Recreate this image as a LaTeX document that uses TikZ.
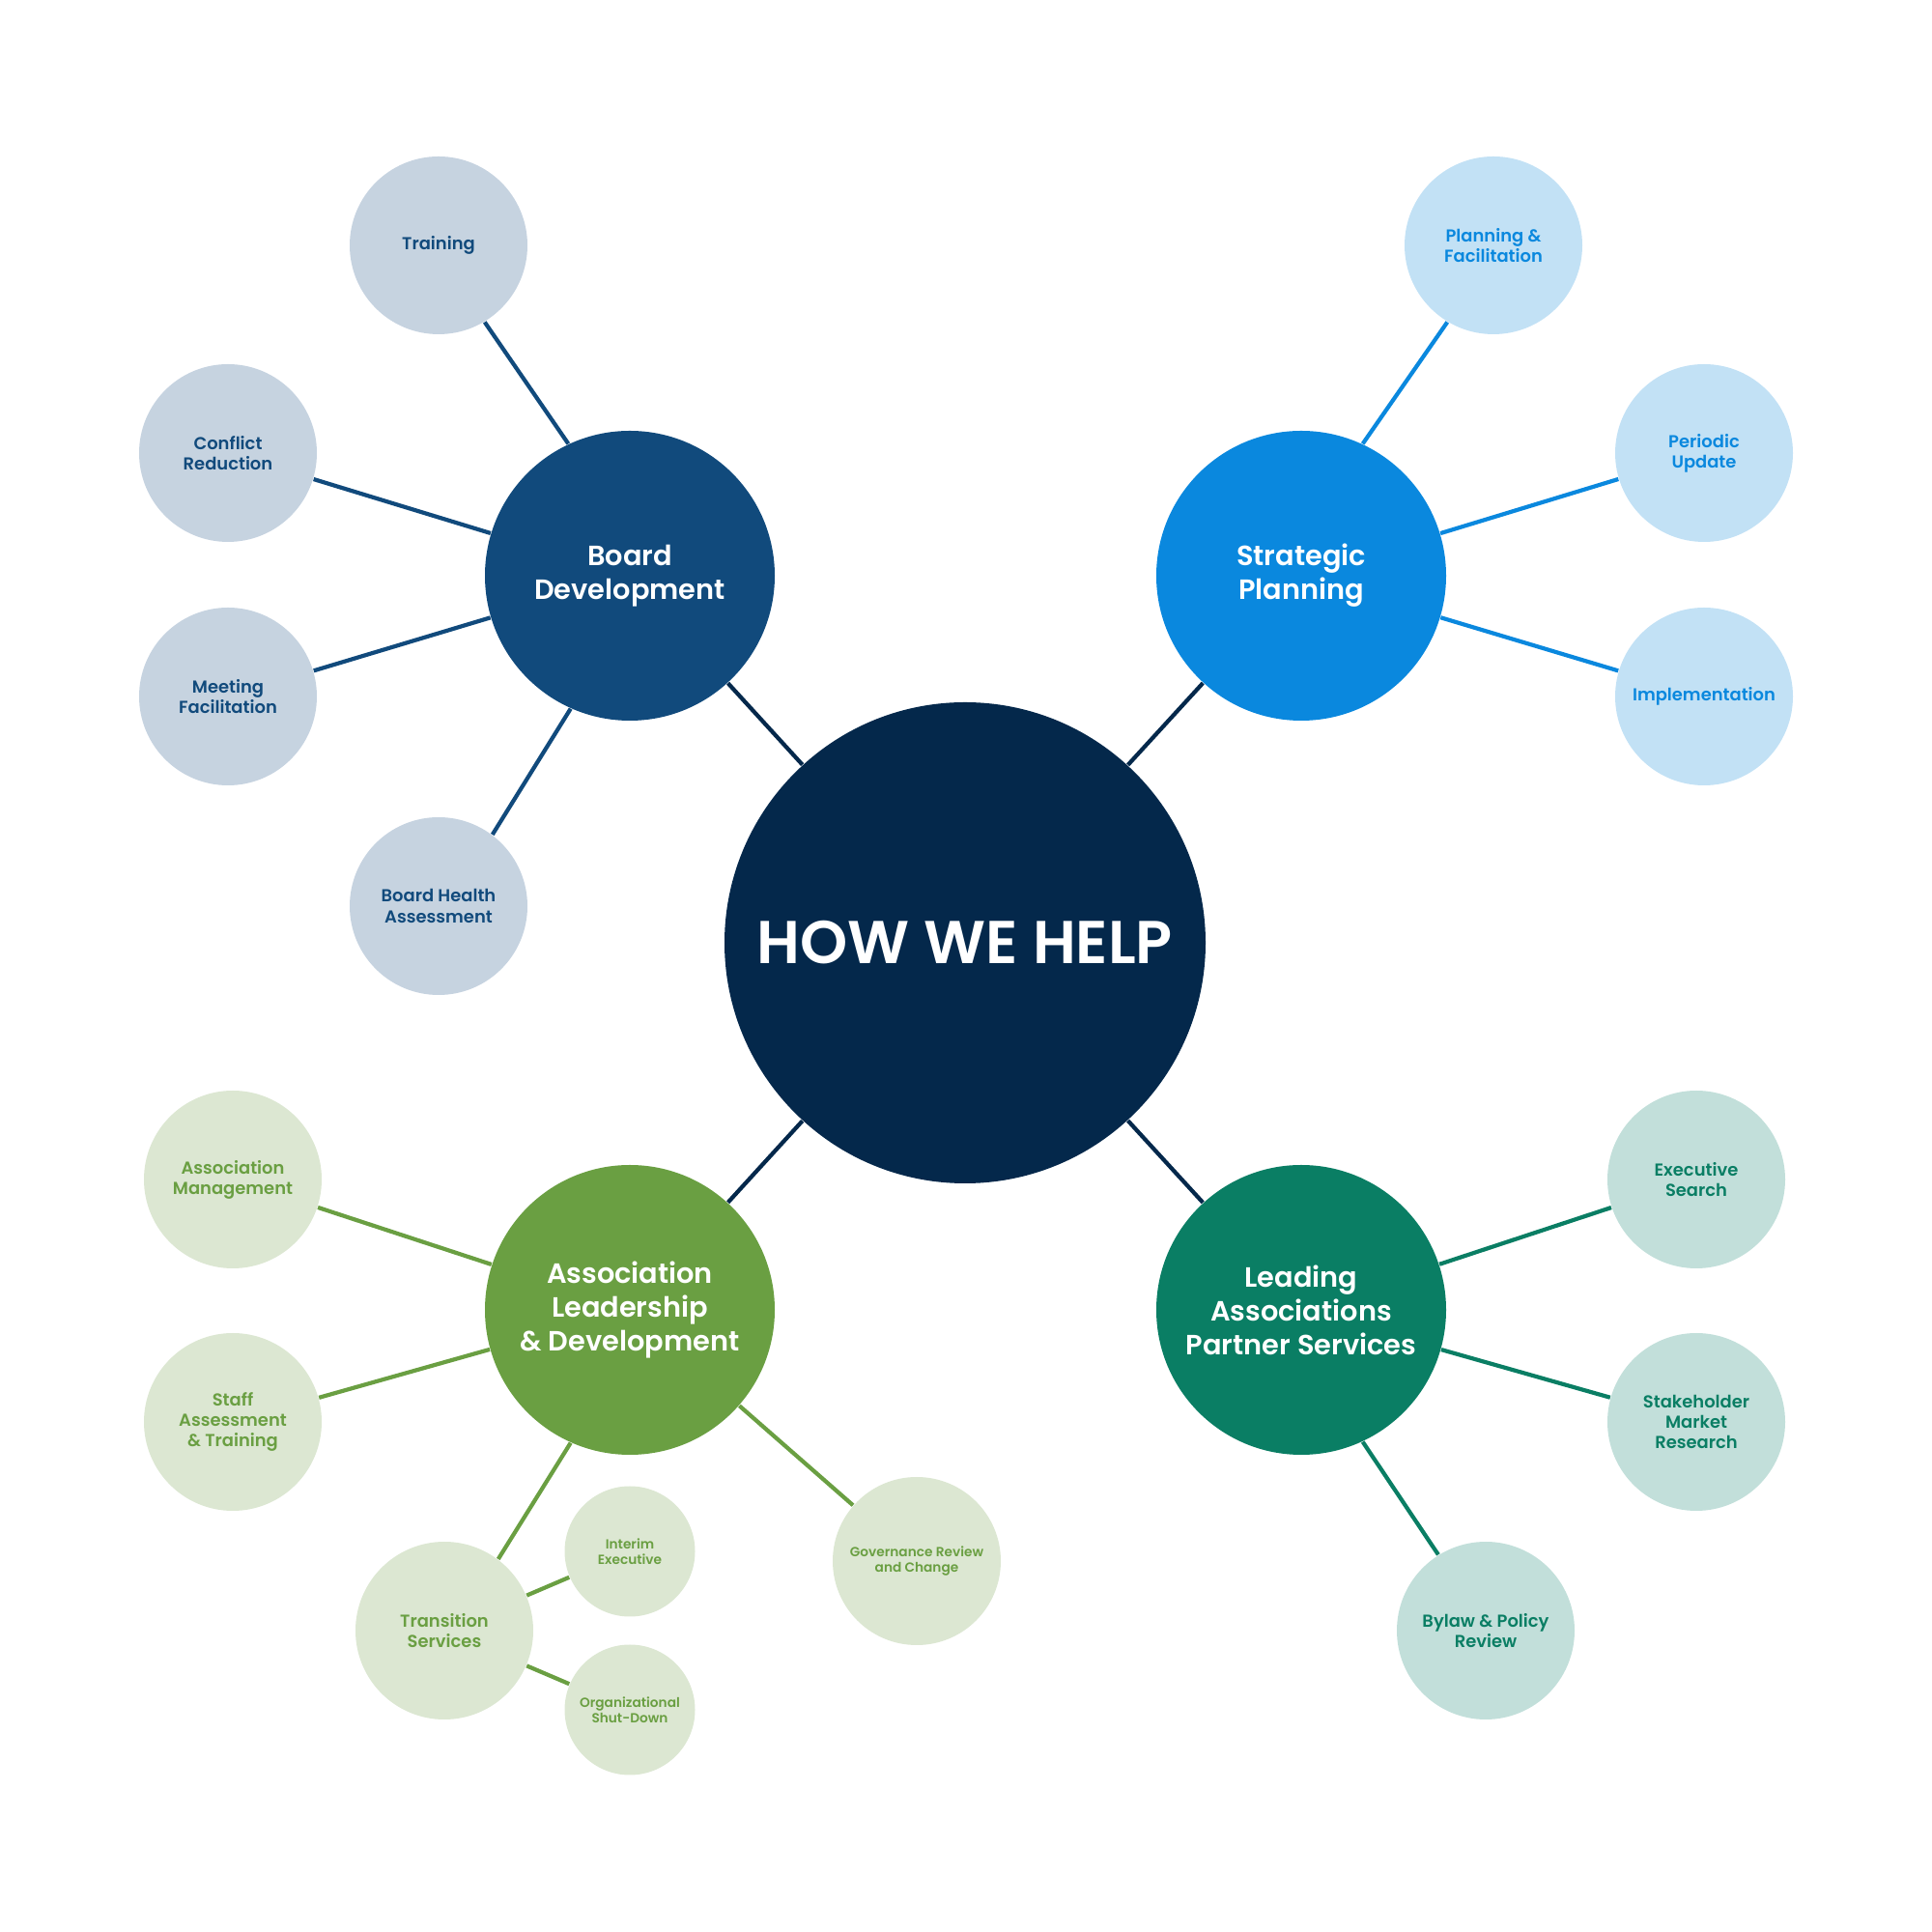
\documentclass[tikz,border=0pt]{standalone}
\usepackage{fontspec}
\setmainfont{Poppins}[BoldFont={Poppins SemiBold}]
\definecolor{navy}{HTML}{04284B}
\definecolor{bdblue}{HTML}{114A7C}
\definecolor{bdleaf}{HTML}{C6D3E0}
\definecolor{spblue}{HTML}{0A88DE}
\definecolor{spleaf}{HTML}{C2E1F5}
\definecolor{algreen}{HTML}{6A9F42}
\definecolor{alleaf}{HTML}{DCE7D2}
\definecolor{lateal}{HTML}{0A7E64}
\definecolor{laleaf}{HTML}{C2DFDA}
\begin{document}
\begin{tikzpicture}
	[core/.style={circle,fill=navy,text=white,minimum size=4.98cm,inner sep=0pt,align=center,font=\bfseries\fontsize{17.8}{21}\selectfont},
	 hub/.style={circle,text=white,minimum size=3cm,inner sep=0pt,align=center,font=\bfseries\fontsize{8.2}{10}\selectfont},
	 leaf/.style={circle,minimum size=1.84cm,inner sep=0pt,align=center,font=\bfseries\fontsize{5.1}{6}\selectfont},
	 tiny/.style={circle,minimum size=1.35cm,inner sep=0pt,align=center,font=\bfseries\fontsize{3.9}{4.7}\selectfont},
	 link/.style={line width=1.2pt}]
	\useasboundingbox (0,0) rectangle (20,20);
	% centre and the four hubs
	\node[core,name=help]at(9.99,10.24){HOW WE HELP};
	\node[hub,fill=bdblue,name=bd]at(6.52,14.04){Board\\Development};
	\node[hub,fill=spblue,name=sp]at(13.47,14.04){Strategic\\Planning};
	\node[hub,fill=algreen,name=al]at(6.52,6.44){Association\\Leadership\\\& Development};
	\node[hub,fill=lateal,name=la]at(13.47,6.44){Leading\\Associations\\Partner Services};
	% board development
	\node[leaf,fill=bdleaf,text=bdblue,name=train]at(4.54,17.46){Training};
	\node[leaf,fill=bdleaf,text=bdblue,name=confl]at(2.36,15.31){Conflict\\Reduction};
	\node[leaf,fill=bdleaf,text=bdblue,name=meet]at(2.36,12.79){Meeting\\Facilitation};
	\node[leaf,fill=bdleaf,text=bdblue,name=health]at(4.54,10.62){Board Health\\Assessment};
	% strategic planning
	\node[leaf,fill=spleaf,text=spblue,name=plan]at(15.46,17.46){Planning \&\\Facilitation};
	\node[leaf,fill=spleaf,text=spblue,name=period]at(17.64,15.31){Periodic\\Update};
	\node[leaf,fill=spleaf,text=spblue,name=impl]at(17.64,12.79){Implementation};
	% association leadership
	\node[leaf,fill=alleaf,text=algreen,name=amgmt]at(2.41,7.79){Association\\Management};
	\node[leaf,fill=alleaf,text=algreen,name=staff]at(2.41,5.28){Staff\\Assessment\\\& Training};
	\node[leaf,fill=alleaf,text=algreen,name=trans]at(4.60,3.12){Transition\\Services};
	\node[tiny,fill=alleaf,text=algreen,name=interim]at(6.52,3.94){Interim\\Executive};
	\node[tiny,fill=alleaf,text=algreen,name=shut]at(6.52,2.30){Organizational\\Shut-Down};
	\node[tiny,fill=alleaf,text=algreen,minimum size=1.74cm,name=gov]at(9.49,3.84){Governance Review\\and Change};
	% leading associations
	\node[leaf,fill=laleaf,text=lateal,name=exec]at(17.56,7.79){Executive\\Search};
	\node[leaf,fill=laleaf,text=lateal,name=stake]at(17.56,5.28){Stakeholder\\Market\\Research};
	\node[leaf,fill=laleaf,text=lateal,name=bylaw]at(15.38,3.12){Bylaw \& Policy\\Review};
	\draw[link,navy] (help)--(bd);
	\draw[link,navy] (help)--(sp);
	\draw[link,navy] (help)--(al);
	\draw[link,navy] (help)--(la);
	\draw[link,bdblue] (bd.115)--(train.-59);
	\draw[link,bdblue] (bd)--(confl);
	\draw[link,bdblue] (bd)--(meet);
	\draw[link,bdblue] (bd.246)--(health.53);
	\draw[link,spblue] (sp.65)--(plan.239);
	\draw[link,spblue] (sp)--(period);
	\draw[link,spblue] (sp)--(impl);
	\draw[link,algreen] (al)--(amgmt);
	\draw[link,algreen] (al)--(staff);
	\draw[link,algreen] (al.246)--(trans.53);
	\draw[link,algreen] (al)--(gov);
	\draw[link,algreen] (trans)--(interim);
	\draw[link,algreen] (trans)--(shut);
	\draw[link,lateal] (la)--(exec);
	\draw[link,lateal] (la)--(stake);
	\draw[link,lateal] (la.-65)--(bylaw.122);
\end{tikzpicture}
\end{document}
